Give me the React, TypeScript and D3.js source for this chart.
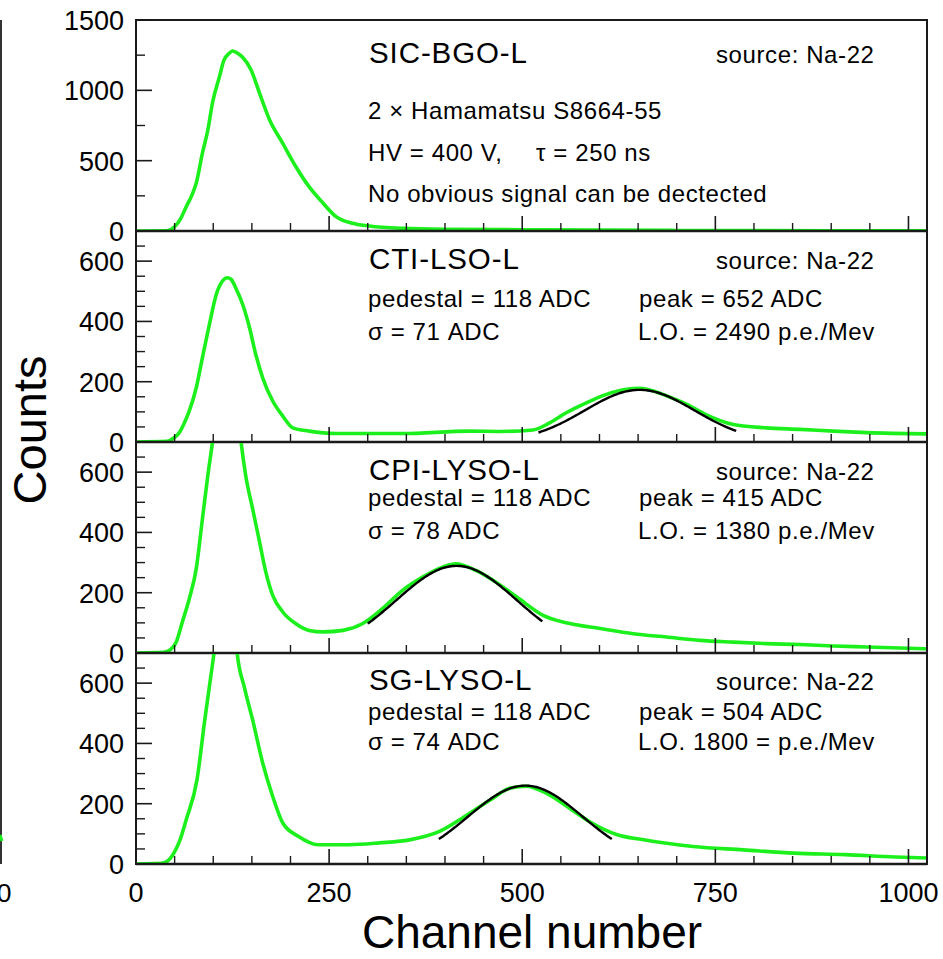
import React from 'react';
import * as d3 from 'd3';

const W = 943;
const H = 959;

// Spectra: channel positions and counts
const sicChannels = [0, 40, 50, 58, 65, 72, 78, 86, 93, 99, 108, 114, 120, 125, 131, 138, 149, 160, 173, 190, 207, 224, 242, 259, 280, 302, 345, 400, 500, 600, 700, 800, 900, 1024];
const sicCounts = [0, 2, 30, 90, 173, 250, 341, 554, 718, 910, 1097, 1216, 1260, 1280, 1265, 1235, 1145, 979, 789, 623, 457, 315, 199, 102, 55, 36, 19, 12, 9, 6, 4, 3, 2, 1];

const ctiChannels = [0, 40, 48, 56, 62, 69, 78, 86, 95, 104, 112, 118, 123, 129, 138, 147, 155, 164, 177, 190, 203, 224, 259, 345, 431, 471, 514, 536, 557, 583, 609, 635, 652, 661, 687, 713, 737, 772, 816, 860, 903, 946, 1024];
const ctiCounts = [0, 2, 12, 31, 60, 103, 180, 280, 390, 490, 534, 545, 540, 512, 457, 379, 291, 213, 136, 86, 47, 36, 28, 28, 36, 35, 40, 64, 97, 130, 158, 175, 178, 175, 153, 125, 92, 59, 47, 42, 36, 31, 27];

const cpiChannels = [0, 36, 45, 52, 60, 69, 78, 86, 93, 99, 110, 118, 128, 136, 142, 151, 160, 168, 177, 190, 207, 224, 242, 268, 293, 319, 345, 371, 397, 414, 440, 466, 493, 527, 557, 601, 644, 687, 730, 773, 816, 860, 903, 946, 1024];
const cpiCounts = [0, 2, 12, 36, 103, 180, 280, 445, 589, 700, 950, 1000, 900, 700, 589, 478, 368, 269, 191, 136, 97, 75, 70, 75, 97, 147, 208, 252, 285, 296, 274, 235, 186, 125, 100, 81, 64, 53, 42, 36, 31, 28, 23, 20, 14];

const sgChannels = [0, 33, 40, 49, 57, 65, 79, 89, 98, 101, 112, 120, 126, 131, 140, 151, 164, 177, 190, 210, 236, 275, 315, 354, 393, 426, 459, 485, 505, 531, 564, 590, 623, 655, 721, 786, 852, 918, 983, 1024];
const sgCounts = [0, 2, 8, 36, 80, 147, 280, 478, 644, 700, 950, 980, 900, 700, 589, 478, 335, 224, 136, 92, 64, 64, 70, 80, 108, 158, 213, 252, 258, 235, 180, 136, 97, 81, 58, 47, 36, 31, 23, 20];

// Panel labels
const panelNames = ['SIC-BGO-L', 'CTI-LSO-L', 'CPI-LYSO-L', 'SG-LYSO-L'];
const sourceLabel = 'source: Na-22';
const sicNotes = ['2 \u00d7 Hamamatsu S8664-55', 'HV = 400 V,', '\u03c4 = 250 ns', 'No obvious signal can be dectected'];
const pedestalNotes = ['pedestal = 118 ADC', 'pedestal = 118 ADC', 'pedestal = 118 ADC'];
const peakNotes = ['peak = 652 ADC', 'peak = 415 ADC', 'peak = 504 ADC'];
const sigmaNotes = ['\u03c3 = 71 ADC', '\u03c3 = 78 ADC', '\u03c3 = 74 ADC'];
const lightNotes = ['L.O. = 2490 p.e./Mev', 'L.O. = 1380 p.e./Mev', 'L.O. 1800 = p.e./Mev'];

// Gaussian fits of the photo-peak (panels 2-4)
const fitPeaks = [652, 415, 504];
const fitSigmas = [71, 78, 74];
const fitAmplitudes = [173, 289, 260];
const fitLow = [521, 300, 392];
const fitHigh = [777, 527, 616];

// Axes
const yMaxima = [1500, 700, 700, 700];
const yMajorSteps = [500, 200, 200, 200];
const yMinorSteps = [250, 50, 50, 50];
const xTickLabels = [0, 250, 500, 750, 1000];
const xAxisTitle = 'Channel number';
const yAxisTitle = 'Counts';

const FONT = '"Liberation Sans", Arial, Helvetica, sans-serif';
const GREEN = '#1cf01c';
const AXIS = '#1a1a1a';

const left = 136;
const right = 927;
const panelTops = [20, 231, 442, 653];
const panelH = 211;

const x = d3.scaleLinear().domain([0, 1024]).range([left, right]);

const series = [
  { ch: sicChannels, n: sicCounts },
  { ch: ctiChannels, n: ctiCounts },
  { ch: cpiChannels, n: cpiCounts },
  { ch: sgChannels, n: sgCounts },
];

// Baselines of the annotation rows, relative to the panel top
const rowOffsets = [
  { title: 43, l1: 99, l2: 141, l3: 182 },
  { title: 38, l1: 76, l2: 109, l3: 0 },
  { title: 38, l1: 64, l2: 97, l3: 0 },
  { title: 37, l1: 67, l2: 97, l3: 0 },
];

const NOTE_SIZE = 24;
const NOTE_SPACING = 0.6;

export default function App() {
  const bottom = panelTops[3] + panelH;
  return (
    <svg
      width={W}
      height={H}
      style={{ position: 'absolute', left: 0, top: 0, background: '#fff' }}
      fontFamily={FONT}
    >
      <defs>
        {panelTops.map((t, i) => (
          <clipPath id={`clip-${i}`} key={i}>
            <rect x={left} y={t} width={right - left} height={panelH} />
          </clipPath>
        ))}
      </defs>

      {/* neighbouring frame at the left edge */}
      <line x1={1} x2={1} y1={panelTops[0]} y2={bottom} stroke="#333" strokeWidth={2} />
      <line x1={0} x2={2} y1={835} y2={841} stroke={GREEN} strokeWidth={3} />
      <text x={4} y={902} fontSize={26.5} textAnchor="middle" fill="#000">0</text>

      {panelTops.map((top, i) => {
        const y = d3.scaleLinear().domain([0, yMaxima[i]]).range([top + panelH, top]);
        const s = series[i];
        const pts = s.ch.map((c, k) => [c, s.n[k]] as [number, number]);
        const line = d3
          .line<[number, number]>()
          .x((d) => x(d[0]))
          .y((d) => y(d[1]))
          .curve(d3.curveMonotoneX);
        const majors = d3.range(0, yMaxima[i] + 1, yMajorSteps[i]);
        const minors = d3.range(0, yMaxima[i] + 1, yMinorSteps[i]).filter((v) => v % yMajorSteps[i] !== 0);
        const xMajors = d3.range(0, 1001, 250);
        const xMinors = d3.range(0, 1024, 50).filter((v) => v % 250 !== 0);
        const off = rowOffsets[i];

        let fit: string | null = null;
        if (i > 0) {
          const j = i - 1;
          const g = (c: number) =>
            fitAmplitudes[j] * Math.exp(-((c - fitPeaks[j]) ** 2) / (2 * fitSigmas[j] ** 2));
          const cs = d3.range(fitLow[j], fitHigh[j] + 0.5, 2);
          fit = d3
            .line<number>()
            .x((c) => x(c))
            .y((c) => y(g(c)))(cs);
        }

        return (
          <g key={i}>
            <g clipPath={`url(#clip-${i})`}>
              <path d={line(pts) || ''} fill="none" stroke={GREEN} strokeWidth={3.6} strokeLinejoin="round" />
              {fit && <path d={fit} fill="none" stroke="#000" strokeWidth={2.4} />}
            </g>

            {/* frame */}
            <rect x={left} y={top} width={right - left} height={panelH} fill="none" stroke={AXIS} strokeWidth={2} />
            <line x1={left} x2={right} y1={top + panelH} y2={top + panelH} stroke={AXIS} strokeWidth={2.6} />

            {/* y ticks */}
            {majors.map((v) => (
              <line key={`M${v}`} x1={left} x2={left + 16} y1={y(v)} y2={y(v)} stroke={AXIS} strokeWidth={1.6} />
            ))}
            {minors.map((v) => (
              <line key={`m${v}`} x1={left} x2={left + 9} y1={y(v)} y2={y(v)} stroke={AXIS} strokeWidth={1.4} />
            ))}
            {majors.map((v) => (
              <text key={`t${v}`} x={124} y={y(v) + 10} fontSize={27} textAnchor="end" fill="#000">
                {v}
              </text>
            ))}

            {/* x ticks */}
            {xMajors.map((v) => (
              <line key={`X${v}`} x1={x(v)} x2={x(v)} y1={top + panelH} y2={top + panelH - 15} stroke={AXIS} strokeWidth={1.6} />
            ))}
            {xMinors.map((v) => (
              <line key={`x${v}`} x1={x(v)} x2={x(v)} y1={top + panelH} y2={top + panelH - 8} stroke={AXIS} strokeWidth={1.4} />
            ))}

            {/* annotations */}
            <text x={369} y={top + off.title} fontSize={29.5} letterSpacing={0.9} fill="#000">
              {panelNames[i]}
            </text>
            <text x={716} y={top + off.title} fontSize={NOTE_SIZE} letterSpacing={NOTE_SPACING} fill="#000">
              {sourceLabel}
            </text>
            {i === 0 ? (
              <g fontSize={NOTE_SIZE} letterSpacing={NOTE_SPACING} fill="#000">
                <text x={368} y={top + off.l1}>{sicNotes[0]}</text>
                <text x={368} y={top + off.l2}>{sicNotes[1]}</text>
                <text x={536} y={top + off.l2}>{sicNotes[2]}</text>
                <text x={368} y={top + off.l3}>{sicNotes[3]}</text>
              </g>
            ) : (
              <g fontSize={NOTE_SIZE} letterSpacing={NOTE_SPACING} fill="#000">
                <text x={368} y={top + off.l1}>{pedestalNotes[i - 1]}</text>
                <text x={639} y={top + off.l1}>{peakNotes[i - 1]}</text>
                <text x={368} y={top + off.l2}>{sigmaNotes[i - 1]}</text>
                <text x={638} y={top + off.l2}>{lightNotes[i - 1]}</text>
              </g>
            )}
          </g>
        );
      })}

      {/* x tick labels */}
      {xTickLabels.map((v) => (
        <text key={v} x={x(v)} y={902} fontSize={27} textAnchor="middle" fill="#000">
          {v}
        </text>
      ))}

      {/* axis titles */}
      <text x={532} y={948} fontSize={46} textAnchor="middle" fill="#000">
        {xAxisTitle}
      </text>
      <text
        transform={`translate(46, 430) rotate(-90)`}
        fontSize={47}
        textAnchor="middle"
        fill="#000"
      >
        {yAxisTitle}
      </text>
    </svg>
  );
}
